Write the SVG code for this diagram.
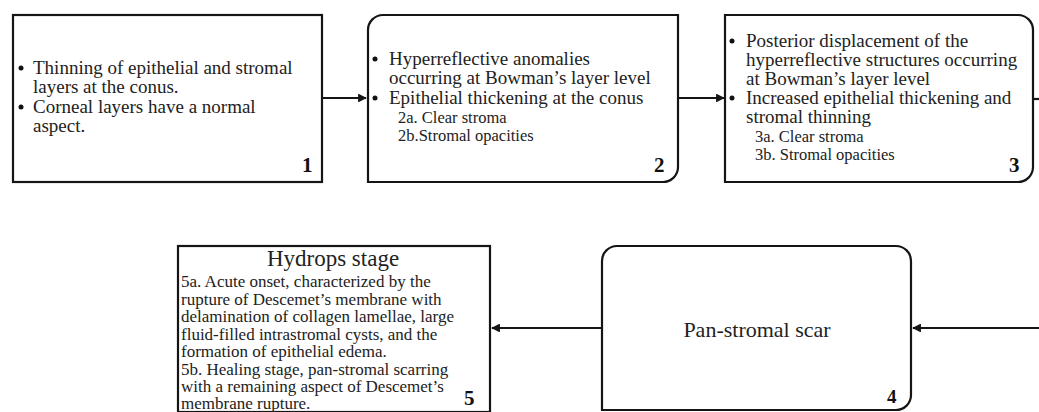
<svg xmlns="http://www.w3.org/2000/svg" width="1039" height="412" viewBox="0 0 1039 412">
<style>
.box{fill:#fff;stroke:#151515;stroke-width:2.2}
.t{font-family:"Liberation Serif","Times New Roman",serif;font-size:19px;fill:#222}
.s{font-family:"Liberation Serif","Times New Roman",serif;font-size:16.5px;fill:#222}
.b{font-family:"Liberation Serif","Times New Roman",serif;font-size:17px;fill:#222}
.n{font-family:"Liberation Serif","Times New Roman",serif;font-size:21px;font-weight:bold;fill:#111}
.h{font-family:"Liberation Serif","Times New Roman",serif;font-size:23px;fill:#222}
.dot{fill:#111}
.c{stroke:#151515;stroke-width:2.2;fill:none}
</style>
<defs>
<marker id="ah" viewBox="0 0 10 10" refX="9" refY="5" markerWidth="4" markerHeight="4" orient="auto" markerUnits="strokeWidth">
<path d="M0,0 L10,5 L0,10 Z" fill="#151515"/>
</marker>
</defs>
<g id="connectors">
<line class="c" x1="322" y1="98" x2="366" y2="98" marker-end="url(#ah)"/>
<line class="c" x1="678" y1="98" x2="724" y2="98" marker-end="url(#ah)"/>
<line class="c" x1="1033" y1="99" x2="1039" y2="99"/>
<line class="c" x1="1039" y1="328" x2="913" y2="328" marker-end="url(#ah)"/>
<line class="c" x1="602" y1="328" x2="492" y2="328" marker-end="url(#ah)"/>
</g>
<g id="node1">
<rect class="box" x="13" y="15" width="309" height="167"/>
<circle class="dot" cx="21" cy="68" r="2.5"/>
<circle class="dot" cx="21" cy="107" r="2.5"/>
<text class="t" x="33" y="74">Thinning of epithelial and stromal</text>
<text class="t" x="33" y="93">layers at the conus.</text>
<text class="t" x="33" y="113">Corneal layers have a normal</text>
<text class="t" x="33" y="132">aspect.</text>
<text class="n" x="302" y="172">1</text>
</g>
<g id="node2">
<path class="box" d="M383,15 H678 V167 A15,15 0 0 1 663,182 H368 V30 A15,15 0 0 1 383,15 Z"/>
<circle class="dot" cx="375" cy="59" r="2.5"/>
<circle class="dot" cx="375" cy="98" r="2.5"/>
<text class="t" x="389" y="65">Hyperreflective anomalies</text>
<text class="t" x="389" y="84">occurring at Bowman’s layer level</text>
<text class="t" x="389" y="104">Epithelial thickening at the conus</text>
<text class="s" x="398" y="123">2a. Clear stroma</text>
<text class="s" x="398" y="141">2b.Stromal opacities</text>
<text class="n" x="654" y="172">2</text>
</g>
<g id="node3">
<path class="box" d="M725,15 H1018 A15,15 0 0 1 1033,30 V167 A15,15 0 0 1 1018,182 H725 Z"/>
<circle class="dot" cx="732" cy="41" r="2.5"/>
<circle class="dot" cx="732" cy="98" r="2.5"/>
<text class="t" x="746" y="47">Posterior displacement of the</text>
<text class="t" x="746" y="66">hyperreflective structures occurring</text>
<text class="t" x="746" y="85">at Bowman’s layer level</text>
<text class="t" x="746" y="104">Increased epithelial thickening and</text>
<text class="t" x="746" y="123">stromal thinning</text>
<text class="s" x="755" y="142">3a. Clear stroma</text>
<text class="s" x="755" y="160">3b. Stromal opacities</text>
<text class="n" x="1009" y="172">3</text>
</g>
<g id="node4">
<path class="box" d="M617,246 H896 A15,15 0 0 1 911,261 V395 A15,15 0 0 1 896,410 H602 V261 A15,15 0 0 1 617,246 Z"/>
<text class="h" x="757" y="337" text-anchor="middle" style="font-size:22px">Pan-stromal scar</text>
<text class="n" x="887" y="403" style="font-size:19px">4</text>
</g>
<g id="node5">
<rect class="box" x="178" y="246" width="312" height="166"/>
<text class="h" x="333" y="266" text-anchor="middle">Hydrops stage</text>
<text class="b" x="181" y="287">5a. Acute onset, characterized by the</text>
<text class="b" x="181" y="304.5">rupture of Descemet’s membrane with</text>
<text class="b" x="181" y="322">delamination of collagen lamellae, large</text>
<text class="b" x="181" y="339.5">fluid-filled intrastromal cysts, and the</text>
<text class="b" x="181" y="357">formation of epithelial edema.</text>
<text class="b" x="181" y="374.5">5b. Healing stage, pan-stromal scarring</text>
<text class="b" x="181" y="392">with a remaining aspect of Descemet’s</text>
<text class="b" x="181" y="408.5">membrane rupture.</text>
<text class="n" x="464" y="405">5</text>
</g>
</svg>
